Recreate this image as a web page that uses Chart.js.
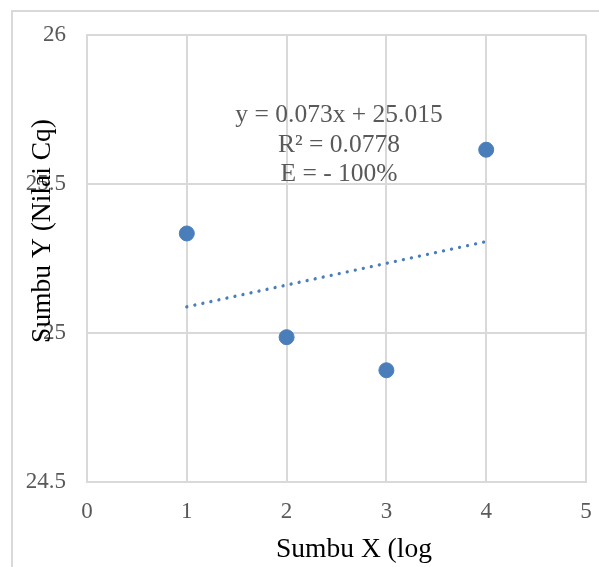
<!DOCTYPE html>
<html>
<head>
<meta charset="utf-8">
<script src="https://cdn.jsdelivr.net/npm/chart.js@4"></script>
<style>
    html, body { margin: 0; padding: 0; background: #fff; overflow: hidden; }
    #wrap { position: relative; width: 599px; height: 567px; }
</style>
</head>
<body>
<div id="wrap"><canvas id="cqChart" width="599" height="567"></canvas></div>
<script>
// Data
const pointX = [1, 2, 3, 4];
const pointY = [25.334, 24.986, 24.875, 25.615];

// Trendline endpoints (linear fit shown on the chart)
const trendX = [1, 4];
const trendY = [25.088, 25.307];

const xMin = 0, xMax = 5, xStep = 1;
const yMin = 24.5, yMax = 26, yStep = 0.5;

const equationLines = ['y = 0.073x + 25.015', 'R\u00b2 = 0.0778', 'E = - 100%'];
const xTitle = 'Sumbu X (log';
const yTitle = 'Sumbu Y (Nilai Cq)';

const serif = "'Liberation Serif', 'Times New Roman', serif";
const gridGray = '#d9d9d9';
const textGray = '#595959';
const blue = '#4a7ebb';

// Outer frame, axis titles and the equation text
const decorPlugin = {
    id: 'decor',
    beforeDraw(chart) {
        const ctx = chart.ctx;
        ctx.save();
        ctx.strokeStyle = gridGray;
        ctx.lineWidth = 2;
        ctx.strokeRect(12, 11, 700, 700);
        ctx.restore();
    },
    afterDraw(chart) {
        const ctx = chart.ctx;
        ctx.save();

        // equation block
        ctx.fillStyle = textGray;
        ctx.font = '25.5px ' + serif;
        ctx.textAlign = 'center';
        ctx.textBaseline = 'alphabetic';
        equationLines.forEach((line, i) => {
            ctx.fillText(line, 339, 122 + i * 29.5);
        });

        // x title
        ctx.fillStyle = '#000';
        ctx.font = '27.5px ' + serif;
        ctx.fillText(xTitle, 354, 557);

        // y title (rotated, overlaps the tick labels like the original)
        ctx.translate(50, 231);
        ctx.rotate(-Math.PI / 2);
        ctx.fillText(yTitle, 0, 0);
        ctx.restore();
    }
};

new Chart(document.getElementById('cqChart'), {
    type: 'scatter',
    data: {
        datasets: [{
            label: 'Cq',
            data: pointX.map((x, i) => ({ x: x, y: pointY[i] })),
            backgroundColor: blue,
            borderColor: blue,
            pointRadius: 7.5,
            pointHoverRadius: 7.5,
            order: 1
        }, {
            type: 'line',
            label: 'Linear',
            data: trendX.map((x, i) => ({ x: x, y: trendY[i] })),
            borderColor: blue,
            borderWidth: 3.3,
            borderDash: [0.01, 8.2],
            borderCapStyle: 'round',
            pointRadius: 0,
            fill: false,
            order: 2
        }]
    },
    options: {
        responsive: false,
        animation: false,
        layout: {
            padding: { top: 35, right: 13, left: 0, bottom: 0 }
        },
        plugins: {
            legend: { display: false },
            tooltip: { enabled: false }
        },
        scales: {
            x: {
                type: 'linear',
                min: xMin,
                max: xMax,
                afterFit(scale) {
                    scale.height = 85;
                    scale.paddingLeft = 0;
                    scale.paddingRight = 0;
                },
                grid: { color: gridGray, lineWidth: 2, drawTicks: false },
                border: { color: gridGray, width: 2 },
                ticks: {
                    stepSize: xStep,
                    padding: 16,
                    color: textGray,
                    font: { family: serif, size: 23 }
                }
            },
            y: {
                min: yMin,
                max: yMax,
                afterFit(scale) {
                    scale.width = 87;
                    scale.paddingTop = 0;
                    scale.paddingBottom = 0;
                },
                grid: { color: gridGray, lineWidth: 2, drawTicks: false },
                border: { color: gridGray, width: 2 },
                ticks: {
                    stepSize: yStep,
                    padding: 21,
                    color: textGray,
                    font: { family: serif, size: 23 },
                    callback: v => String(v)
                }
            }
        }
    },
    plugins: [decorPlugin]
});
</script>
</body>
</html>
